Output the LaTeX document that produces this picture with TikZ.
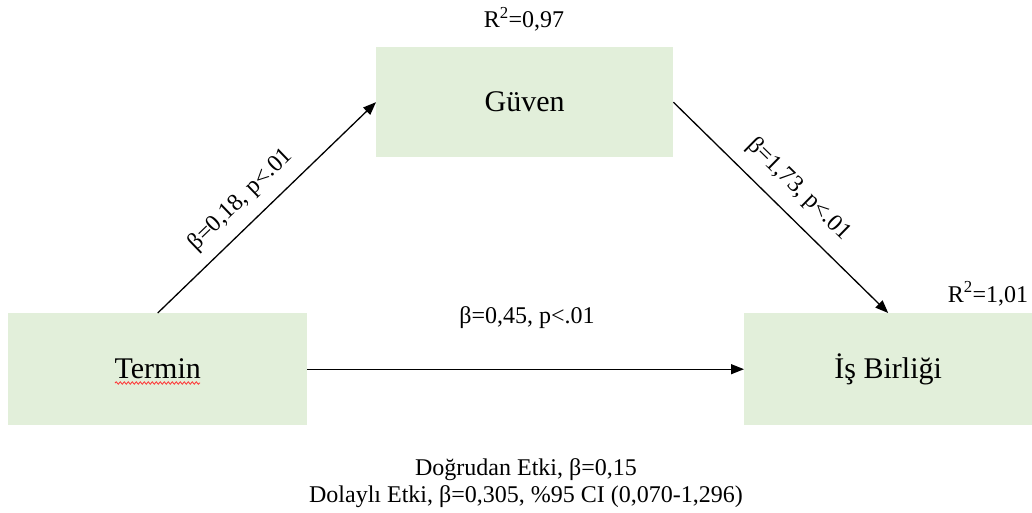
\documentclass[tikz,border=0pt]{standalone}
\usepackage{fontspec}
\setmainfont{Liberation Serif}
\usetikzlibrary{arrows.meta,decorations.pathmorphing}
\definecolor{boxgreen}{HTML}{E2EFDA}
\begin{document}
\begin{tikzpicture}[x=1pt,y=-1pt,
  box/.style={fill=boxgreen, draw=none, inner sep=0pt, anchor=north west, font=\fontsize{30}{36}\selectfont},
  arr/.style={-{Triangle[length=13pt,width=10pt]}, line width=1.3pt},
  lab/.style={font=\fontsize{24}{28}\selectfont, inner sep=0pt},
]
\useasboundingbox (0,0) rectangle (1032,513);
\node[box, minimum width=297pt, minimum height=110pt] (g) at (376,47) {\raisebox{-3pt}{Güven}};
\node[box, minimum width=299pt, minimum height=112pt] (t) at (8,313) {Termin};
\node[box, minimum width=288pt, minimum height=112pt] (i) at (744,313) {İş Birliği};

\draw[arr] (t.north) -- (g.west) node[lab, pos=0.456, sloped, above=12pt] (l1) {β=0,18, p<.01};
\draw[arr] (g.east) -- (i.north) node[lab, pos=0.5, sloped, above=14pt] (l2) {β=1,73, p<.01};
\draw[arr] (t.east) -- (i.west);
\node[lab, anchor=base] (l3) at (527,323) {β=0,45, p<.01};

\node[lab, anchor=base] (r1) at (524,28) {R\textsuperscript{2}=0,97};
\node[lab, anchor=base] (r2) at (988,302) {R\textsuperscript{2}=1,01};

\node[lab, anchor=base] (b1) at (526,475) {Doğrudan Etki, β=0,15};
\node[lab, anchor=base] (b2) at (526,502) {Dolaylı Etki, β=0,305, \%95 CI (0,070-1,296)};

\coordinate (w1) at (115,383);
\coordinate (w2) at (200,383);
\draw[red!80, line width=0.8pt, decorate, decoration={snake, amplitude=1.2pt, segment length=4pt}] (w1) -- (w2);
\end{tikzpicture}
\end{document}
